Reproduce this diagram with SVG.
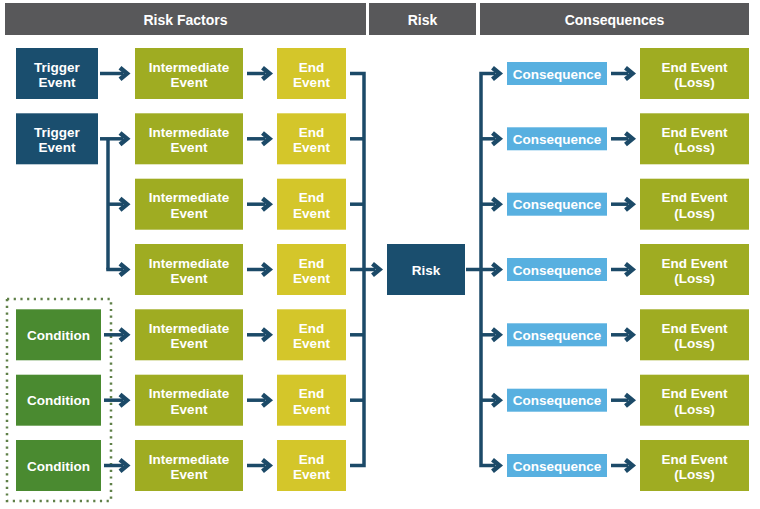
<svg xmlns="http://www.w3.org/2000/svg" width="760" height="509" viewBox="0 0 760 509">
<style>
text{font-family:"Liberation Sans",Arial,sans-serif;font-weight:bold;fill:#fff;text-anchor:middle;font-size:13.5px}
.hdr{fill:#58585a}
.hdr-t{font-size:14px}
.trig{fill:#1a4e6e}
.int{fill:#9fac22}
.end{fill:#d4c62a}
.cond{fill:#4a8a30}
.cons{fill:#58b0e0}
.loss{fill:#9fac22}
.risk{fill:#1a4e6e}
.cn{fill:none;stroke:#1c4a68;stroke-width:3.5;stroke-linejoin:miter}
.ar{marker-end:url(#chev)}
</style>
<defs>
<marker id="chev" viewBox="0 0 14 18" markerWidth="14" markerHeight="18" refX="5" refY="9" orient="auto" markerUnits="userSpaceOnUse">
<path d="M2,3.2 L9,9 L2,14.8" fill="none" stroke="#1c4a68" stroke-width="4.5" stroke-linejoin="miter"/>
</marker>
</defs>

<g id="headers">
<rect class="hdr" x="5" y="3" width="361" height="32"/>
<text class="hdr-t" x="185.5" y="24.5">Risk Factors</text>
<rect class="hdr" x="369" y="3" width="107" height="32"/>
<text class="hdr-t" x="422.5" y="24.5">Risk</text>
<rect class="hdr" x="480" y="3" width="269" height="32"/>
<text class="hdr-t" x="614.5" y="24.5">Consequences</text>
</g>

<g id="cond-frame">
<rect x="7" y="299" width="104" height="202" fill="none" stroke="#5f8048" stroke-width="2.5" stroke-dasharray="2.2 4.5"/>
</g>

<g id="connectors">
<path class="cn ar" d="M100,73.5 H123"/>
<path class="cn ar" d="M100,138.8 H123"/>
<path class="cn" d="M108,138.8 V269.5"/>
<path class="cn ar" d="M108,204.2 H123"/>
<path class="cn ar" d="M108,267.8 V269.5 H123"/>
<path class="cn ar" d="M104,334.8 H123"/>
<path class="cn ar" d="M104,400.2 H123"/>
<path class="cn ar" d="M104,465.5 H123"/>
<path class="cn ar" d="M247,73.5 H265.5"/>
<path class="cn ar" d="M247,138.8 H265.5"/>
<path class="cn ar" d="M247,204.2 H265.5"/>
<path class="cn ar" d="M247,269.5 H265.5"/>
<path class="cn ar" d="M247,334.8 H265.5"/>
<path class="cn ar" d="M247,400.2 H265.5"/>
<path class="cn ar" d="M247,465.5 H265.5"/>
<path class="cn" d="M350,73.5 H364 V465.5 H350"/>
<path class="cn" d="M350,138.8 H364"/>
<path class="cn" d="M350,204.2 H364"/>
<path class="cn" d="M350,334.8 H364"/>
<path class="cn" d="M350,400.2 H364"/>
<path class="cn ar" d="M350,269.5 H375.5"/>
<path class="cn ar" d="M466,269.5 H495.5"/>
<path class="cn ar" d="M481,270 V73.5 H495.5"/>
<path class="cn ar" d="M481,269 V465.5 H495.5"/>
<path class="cn ar" d="M481,138.8 H495.5"/>
<path class="cn ar" d="M481,204.2 H495.5"/>
<path class="cn ar" d="M481,334.8 H495.5"/>
<path class="cn ar" d="M481,400.2 H495.5"/>
<path class="cn ar" d="M611,73.5 H628.5"/>
<path class="cn ar" d="M611,138.8 H628.5"/>
<path class="cn ar" d="M611,204.2 H628.5"/>
<path class="cn ar" d="M611,269.5 H628.5"/>
<path class="cn ar" d="M611,334.8 H628.5"/>
<path class="cn ar" d="M611,400.2 H628.5"/>
<path class="cn ar" d="M611,465.5 H628.5"/>
</g>

<g id="trigger1"><rect class="trig" x="16" y="48" width="82" height="51"/><text x="57" y="71.5">Trigger</text><text x="57" y="87">Event</text></g>
<g id="trigger2"><rect class="trig" x="16" y="113.3" width="82" height="51"/><text x="57" y="136.8">Trigger</text><text x="57" y="152.3">Event</text></g>
<g id="condition1"><rect class="cond" x="16" y="309.3" width="85" height="51"/><text x="58.5" y="339.8">Condition</text></g>
<g id="condition2"><rect class="cond" x="16" y="374.7" width="85" height="51"/><text x="58.5" y="405.2">Condition</text></g>
<g id="condition3"><rect class="cond" x="16" y="440" width="85" height="51"/><text x="58.5" y="470.5">Condition</text></g>

<g id="intermediate1"><rect class="int" x="135" y="48" width="108" height="51"/><text x="189" y="71.5">Intermediate</text><text x="189" y="87">Event</text></g>
<g id="intermediate2"><rect class="int" x="135" y="113.3" width="108" height="51"/><text x="189" y="136.8">Intermediate</text><text x="189" y="152.3">Event</text></g>
<g id="intermediate3"><rect class="int" x="135" y="178.7" width="108" height="51"/><text x="189" y="202.2">Intermediate</text><text x="189" y="217.7">Event</text></g>
<g id="intermediate4"><rect class="int" x="135" y="244" width="108" height="51"/><text x="189" y="267.5">Intermediate</text><text x="189" y="283">Event</text></g>
<g id="intermediate5"><rect class="int" x="135" y="309.3" width="108" height="51"/><text x="189" y="332.8">Intermediate</text><text x="189" y="348.3">Event</text></g>
<g id="intermediate6"><rect class="int" x="135" y="374.7" width="108" height="51"/><text x="189" y="398.2">Intermediate</text><text x="189" y="413.7">Event</text></g>
<g id="intermediate7"><rect class="int" x="135" y="440" width="108" height="51"/><text x="189" y="463.5">Intermediate</text><text x="189" y="479">Event</text></g>

<g id="end1"><rect class="end" x="277" y="48" width="69" height="51"/><text x="311.5" y="71.5">End</text><text x="311.5" y="87">Event</text></g>
<g id="end2"><rect class="end" x="277" y="113.3" width="69" height="51"/><text x="311.5" y="136.8">End</text><text x="311.5" y="152.3">Event</text></g>
<g id="end3"><rect class="end" x="277" y="178.7" width="69" height="51"/><text x="311.5" y="202.2">End</text><text x="311.5" y="217.7">Event</text></g>
<g id="end4"><rect class="end" x="277" y="244" width="69" height="51"/><text x="311.5" y="267.5">End</text><text x="311.5" y="283">Event</text></g>
<g id="end5"><rect class="end" x="277" y="309.3" width="69" height="51"/><text x="311.5" y="332.8">End</text><text x="311.5" y="348.3">Event</text></g>
<g id="end6"><rect class="end" x="277" y="374.7" width="69" height="51"/><text x="311.5" y="398.2">End</text><text x="311.5" y="413.7">Event</text></g>
<g id="end7"><rect class="end" x="277" y="440" width="69" height="51"/><text x="311.5" y="463.5">End</text><text x="311.5" y="479">Event</text></g>

<g id="risk"><rect class="risk" x="387" y="244" width="78" height="51"/><text x="426" y="274.5" font-size="14">Risk</text></g>

<g id="consequence1"><rect class="cons" x="507" y="62" width="100" height="23"/><text x="557" y="78.5">Consequence</text></g>
<g id="consequence2"><rect class="cons" x="507" y="127.3" width="100" height="23"/><text x="557" y="143.8">Consequence</text></g>
<g id="consequence3"><rect class="cons" x="507" y="192.7" width="100" height="23"/><text x="557" y="209.2">Consequence</text></g>
<g id="consequence4"><rect class="cons" x="507" y="258" width="100" height="23"/><text x="557" y="274.5">Consequence</text></g>
<g id="consequence5"><rect class="cons" x="507" y="323.3" width="100" height="23"/><text x="557" y="339.8">Consequence</text></g>
<g id="consequence6"><rect class="cons" x="507" y="388.7" width="100" height="23"/><text x="557" y="405.2">Consequence</text></g>
<g id="consequence7"><rect class="cons" x="507" y="454" width="100" height="23"/><text x="557" y="470.5">Consequence</text></g>

<g id="loss1"><rect class="loss" x="640" y="48" width="109" height="51"/><text x="694.5" y="71.5">End Event</text><text x="694.5" y="87">(Loss)</text></g>
<g id="loss2"><rect class="loss" x="640" y="113.3" width="109" height="51"/><text x="694.5" y="136.8">End Event</text><text x="694.5" y="152.3">(Loss)</text></g>
<g id="loss3"><rect class="loss" x="640" y="178.7" width="109" height="51"/><text x="694.5" y="202.2">End Event</text><text x="694.5" y="217.7">(Loss)</text></g>
<g id="loss4"><rect class="loss" x="640" y="244" width="109" height="51"/><text x="694.5" y="267.5">End Event</text><text x="694.5" y="283">(Loss)</text></g>
<g id="loss5"><rect class="loss" x="640" y="309.3" width="109" height="51"/><text x="694.5" y="332.8">End Event</text><text x="694.5" y="348.3">(Loss)</text></g>
<g id="loss6"><rect class="loss" x="640" y="374.7" width="109" height="51"/><text x="694.5" y="398.2">End Event</text><text x="694.5" y="413.7">(Loss)</text></g>
<g id="loss7"><rect class="loss" x="640" y="440" width="109" height="51"/><text x="694.5" y="463.5">End Event</text><text x="694.5" y="479">(Loss)</text></g>
</svg>
